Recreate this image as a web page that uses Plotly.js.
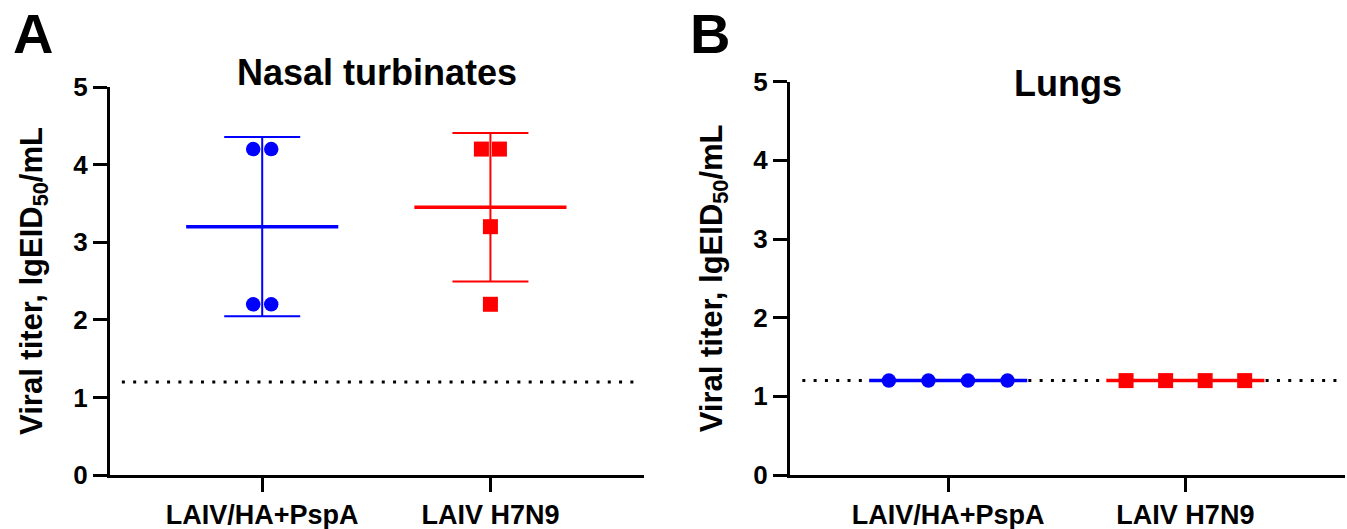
<!DOCTYPE html>
<html>
<head>
<meta charset="utf-8">
<script src="https://cdn.plot.ly/plotly-3.0.1.min.js"></script>
<style>
  html, body { margin: 0; padding: 0; background: #fff; }
  #chart { width: 1347px; height: 529px; }
</style>
</head>
<body>
<div id="chart"></div>
<script>
// ---------------- data ----------------
const categories = ["LAIV/HA+PspA", "LAIV H7N9"];
const nasalHA = [4.2, 4.2, 2.2, 2.2];
const nasalH7N9 = [4.2, 4.2, 3.2, 2.2];
const lungsHA = [1.2, 1.2, 1.2, 1.2];
const lungsH7N9 = [1.2, 1.2, 1.2, 1.2];
const detectionLimit = 1.2;
const yTicks = [0, 1, 2, 3, 4, 5];
const panelTitles = ["Nasal turbinates", "Lungs"];
const panelLetters = ["A", "B"];
const yTitleText = "Viral titer, lgEID<sub>50</sub>/mL";

// ---------------- style ----------------
const W = 1347, H = 529;
const FONT = "Liberation Sans, Arial, Helvetica, sans-serif";
const groupColors = ["#0000ff", "#ff0000"];
const groupSymbols = ["circle", "square"];
const groupSizes = [14.5, 15];

const panels = [
  { series: [nasalHA, nasalH7N9], xPx: [110, 644], yTopPx: 87, spread: 0.079,
    titleY: 73, letterX: 11, suffix: "" },
  { series: [lungsHA, lungsH7N9], xPx: [790, 1345], yTopPx: 81.7, spread: 0.1667,
    titleY: 84, letterX: 688, suffix: "2" }
];
const yBottomPx = 475;

function mean(a) { return a.reduce((s, v) => s + v, 0) / a.length; }
function sd(a) {
  const m = mean(a);
  return Math.sqrt(a.reduce((s, v) => s + (v - m) * (v - m), 0) / (a.length - 1));
}
// spread identical values side by side around the category centre
function spreadX(values, centre, step) {
  const counts = {}, seen = {};
  values.forEach(v => { counts[v] = (counts[v] || 0) + 1; });
  return values.map(v => {
    const i = seen[v] || 0; seen[v] = i + 1;
    return centre + (i - (counts[v] - 1) / 2) * step;
  });
}

const traces = [];
const layout = {
  width: W, height: H,
  margin: { l: 0, r: 0, t: 0, b: 0 },
  paper_bgcolor: "#fff", plot_bgcolor: "#fff",
  showlegend: false,
  font: { family: FONT, color: "#000", weight: "bold" },
  annotations: []
};

const xRange = [-0.667, 1.673];

panels.forEach((p, pi) => {
  const xa = "x" + p.suffix, ya = "y" + p.suffix;
  const xKey = "xaxis" + p.suffix, yKey = "yaxis" + p.suffix;

  layout[xKey] = {
    domain: [p.xPx[0] / W, p.xPx[1] / W],
    range: xRange, anchor: ya,
    showline: true, linewidth: 3, linecolor: "#000",
    ticks: "outside", ticklen: 14, tickwidth: 3, tickcolor: "#000",
    tickvals: categories.map((c, i) => i), ticktext: categories,
    tickfont: { family: FONT, size: 27, weight: "bold", color: "#000" },
    showgrid: false, zeroline: false, fixedrange: true
  };
  layout[yKey] = {
    domain: [(H - yBottomPx) / H, (H - p.yTopPx) / H],
    range: [0, 5], anchor: xa,
    showline: true, linewidth: 3, linecolor: "#000",
    ticks: "outside", ticklen: 14, tickwidth: 3, tickcolor: "#000",
    tickvals: yTicks, ticktext: yTicks.map(String),
    tickfont: { family: FONT, size: 26, weight: "bold", color: "#000" },
    showgrid: false, zeroline: false, fixedrange: true,
    title: { text: yTitleText, font: { family: FONT, size: 31, weight: "bold", color: "#000" }, standoff: 22 }
  };

  // detection limit (dotted)
  traces.push({
    type: "scatter", mode: "lines", xaxis: xa, yaxis: ya,
    x: [-0.615, 1.65], y: [detectionLimit, detectionLimit],
    line: { color: "#000", width: 3, dash: "3px,8.3px" }, hoverinfo: "skip"
  });

  p.series.forEach((vals, gi) => {
    const m = mean(vals), s = sd(vals);
    // error bar (mean ± SD)
    traces.push({
      type: "scatter", mode: "markers", xaxis: xa, yaxis: ya,
      x: [gi], y: [m],
      marker: { size: 1, opacity: 0 },
      error_y: { type: "data", array: [s], visible: s > 0, color: groupColors[gi], thickness: 2, width: 38 },
      hoverinfo: "skip"
    });
    // mean line
    traces.push({
      type: "scatter", mode: "lines", xaxis: xa, yaxis: ya,
      x: [gi - 1 / 3, gi + 1 / 3], y: [m, m],
      line: { color: groupColors[gi], width: 3.5 }, hoverinfo: "skip"
    });
    // individual points
    traces.push({
      type: "scatter", mode: "markers", xaxis: xa, yaxis: ya,
      x: spreadX(vals, gi, p.spread), y: vals,
      marker: { color: groupColors[gi], symbol: groupSymbols[gi], size: groupSizes[gi], line: { width: 0 } },
      name: categories[gi]
    });
  });

  // panel title
  layout.annotations.push({
    xref: "paper", yref: "paper",
    x: (p.xPx[0] + p.xPx[1]) / 2 / W, y: (H - p.titleY) / H,
    xanchor: "center", yanchor: "middle", showarrow: false,
    text: panelTitles[pi],
    font: { family: FONT, size: 36, weight: "bold", color: "#000" }
  });
  // panel letter
  layout.annotations.push({
    xref: "paper", yref: "paper",
    x: p.letterX / W, y: (H - 34) / H,
    xanchor: "left", yanchor: "middle", showarrow: false,
    text: panelLetters[pi],
    font: { family: FONT, size: 56, weight: "bold", color: "#000" }
  });
});

Plotly.newPlot("chart", traces, layout, { displayModeBar: false, staticPlot: true });
</script>
</body>
</html>
